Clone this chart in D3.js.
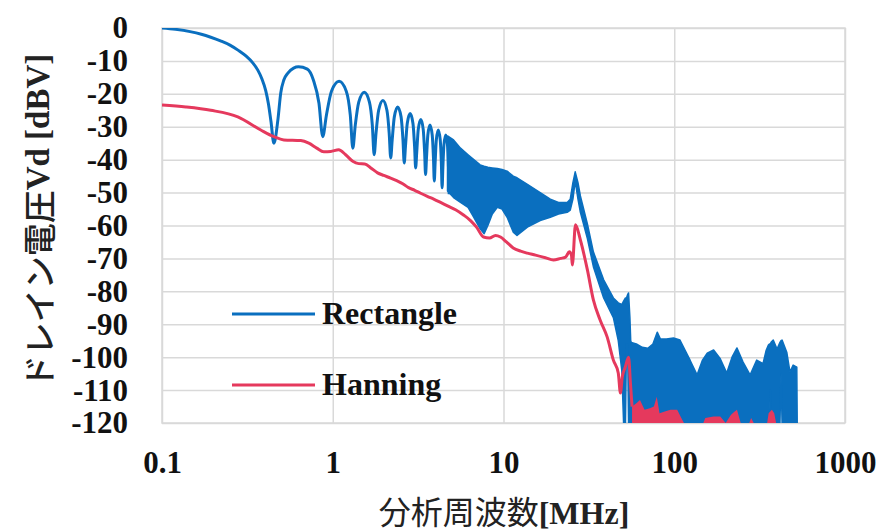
<!DOCTYPE html>
<html>
<head>
<meta charset="utf-8">
<script src="https://cdn.jsdelivr.net/npm/d3@7"></script>
<style>
  body { margin: 0; background: #ffffff; }
  svg { display: block; }
</style>
</head>
<body>
<svg id="chart" width="892" height="532"></svg>
<script>
// ---- axis ticks ----
const xTickValues = [0.1, 1, 10, 100, 1000];
const xTickLabels = ["0.1", "1", "10", "100", "1000"];
const yTickValues = [0, -10, -20, -30, -40, -50, -60, -70, -80, -90, -100, -110, -120];

// ---- series ----
const seriesNames = ["Rectangle", "Hanning"];
const seriesColors = ["#0a6fbf", "#e5395d"];

// Rectangle window: main lobe and resolved side lobes [MHz, dBV]
const rectangleLine = [
  [0.1, 0], [0.12, -0.4], [0.146, -1.1], [0.17, -1.9], [0.193, -2.8], [0.22, -3.9],
  [0.25, -5.2], [0.28, -6.8], [0.31, -8.5], [0.34, -10.6], [0.364, -12.8], [0.385, -15.5],
  [0.405, -19], [0.42, -23], [0.435, -28.5], [0.452, -35],
  [0.477, -28], [0.496, -19.7], [0.517, -15.8], [0.546, -13.7], [0.59, -12.2], [0.63, -11.8],
  [0.71, -12.5], [0.77, -15.8], [0.83, -22.8], [0.874, -33],
  [0.918, -26.5], [0.983, -19.2], [1.09, -16.2], [1.2, -19.2], [1.267, -26.5], [1.311, -36.5],
  [1.355, -29.5], [1.42, -22.5], [1.53, -19.5], [1.64, -22.5], [1.705, -29.5], [1.748, -38.5],
  [1.792, -32], [1.857, -25], [1.967, -22], [2.076, -25], [2.141, -32], [2.185, -39.5],
  [2.229, -34], [2.294, -27], [2.4, -24], [2.513, -27], [2.578, -34], [2.622, -41],
  [2.666, -36], [2.731, -29], [2.84, -26], [2.95, -29], [3.015, -36], [3.059, -42.5],
  [3.103, -37.8], [3.168, -30.8], [3.28, -27.8], [3.387, -30.8], [3.452, -37.8], [3.496, -44.5],
  [3.54, -39.5], [3.605, -32.5], [3.71, -29.5], [3.824, -32.5], [3.889, -39.5], [3.933, -46.5],
  [3.977, -41], [4.042, -34], [4.15, -31], [4.261, -34], [4.326, -41], [4.37, -48.5],
  [4.414, -42.5], [4.479, -35.5], [4.59, -32.5], [4.698, -35.5], [4.763, -42.5], [4.807, -50.5]
];

// Rectangle window: densely packed side lobes, [MHz, upper dBV, lower dBV]
const rectangleBand = [
  [4.7, -32.8, -49.5], [5.1, -34, -51.5], [5.6, -36.5, -53], [6.2, -38.5, -54.5],
  [6.7, -40, -57.5], [7.3, -41.6, -61], [7.7, -42, -62.5], [8.1, -42.3, -60],
  [8.6, -42.5, -56.5], [9.2, -42.7, -54.5], [9.8, -43, -55], [10.5, -43.5, -57.5],
  [11.4, -45, -62], [12.0, -45.5, -63], [13.8, -47.5, -60.5], [16.4, -50, -58.5],
  [18.8, -52, -57.5], [21.0, -53, -56.5], [23.6, -53, -56], [24.6, -52, -55.3],
  [25.5, -47, -52], [26.3, -43.7, -46.5], [27.3, -47, -52], [28.2, -51, -56],
  [31.0, -59.5, -64], [33.6, -68, -72.5], [38.6, -76.5, -82], [44.0, -82, -88],
  [47.0, -83.5, -95], [49.3, -84, -104], [50.5, -83, -120], [51.8, -82, -120],
  [52.5, -82, -96], [53.3, -81, -96], [54.0, -80.5, -120], [55.0, -88, -120],
  [55.6, -95, -120], [56, -95.5, -120], [60, -96, -120], [65, -97, -120],
  [70, -97.3, -120], [75, -96, -120], [79.5, -92.4, -120], [83, -94.5, -120],
  [90, -94.5, -120], [99, -94.2, -120], [108, -94.8, -120], [116, -98, -120],
  [124, -101, -120], [136, -105.4, -120], [146, -101, -120], [156, -98.8, -120],
  [170, -97.8, -120], [186, -100.5, -120], [203, -104.8, -120], [218, -100, -120],
  [233, -97.2, -120], [253, -101.5, -120], [278, -105.4, -120], [304, -100.9, -120],
  [331, -102, -120], [345, -98, -120], [356, -96.3, -120], [361, -96, -120],
  [365, -96, -110], [369, -95.5, -120], [380, -94.8, -120], [400, -97.5, -120],
  [416, -95.5, -120], [422, -95, -105], [428, -94.8, -120], [456, -98.5, -120],
  [476, -104.5, -120], [497, -102.4, -120], [522, -103, -120], [525, -120, -120]
];

// Hanning window [MHz, dBV]
const hanningLine = [
  [0.1, -23.4], [0.138, -24], [0.193, -25], [0.278, -27], [0.379, -31], [0.452, -33],
  [0.517, -34], [0.65, -34.2], [0.724, -35], [0.806, -36.5], [0.886, -37.6], [0.973, -37.5],
  [1.084, -37], [1.19, -38.5], [1.31, -40.5], [1.42, -41.2], [1.54, -41.3], [1.67, -42.5],
  [1.83, -44], [1.99, -44.8], [2.18, -45.6], [2.37, -46.4], [2.57, -47.3], [2.78, -48.5],
  [3.02, -49.3], [3.27, -50.2], [3.6, -51.2], [3.9, -52], [4.28, -53], [4.77, -54.2],
  [5.24, -55.2], [5.83, -56.8], [6.41, -58.5], [6.95, -60.5], [7.64, -63.5], [8.28, -63.8],
  [8.98, -63], [9.6, -63.5], [10.4, -65], [11.4, -66.8], [12.6, -67.8], [13.8, -68.4],
  [15.4, -69], [17.6, -69.8], [19.6, -70.5], [21.6, -70], [23.1, -69.6], [24.3, -68],
  [25, -69], [25.3, -72], [26.4, -59.8], [28.2, -64.4], [31, -73.5], [33.6, -82.6],
  [36.8, -88.7], [40.5, -93.9], [44, -100.9], [47, -104.8], [48.4, -110.9], [49.6, -106],
  [51.7, -103], [54, -100], [55.4, -108], [56.6, -115]
];

// Hanning window: noise floor [MHz, upper dBV, lower dBV]
const hanningBand = [
  [56.6, -115, -120], [60, -114, -120], [63, -113, -120], [67, -116, -120],
  [72, -115.5, -120], [76, -115, -120], [79, -112, -120], [82, -117, -120],
  [88, -116.5, -120], [95, -116, -120], [104, -116, -120], [110, -118.5, -120],
  [114, -120, -120], [148, -120, -120], [152, -118.5, -120], [170, -118, -120],
  [186, -118, -120], [200, -120, -120], [215, -117.5, -120], [225, -116.6, -120],
  [233, -116, -120], [245, -120, -120], [275, -120, -120], [282, -118.5, -120],
  [292, -120, -120], [350, -120, -120], [357, -117, -120], [373, -116, -120],
  [385, -117, -120], [395, -120, -120], [520, -120, -120]
];

// ---- layout ----
const svg = d3.select("#chart");
const margin = { left: 162, top: 28, right: 47, bottom: 109 };
const W = 892 - margin.left - margin.right;
const H = 532 - margin.top - margin.bottom;
const g = svg.append("g").attr("transform", `translate(${margin.left},${margin.top})`);

const x = d3.scaleLog().domain([0.1, 1000]).range([0, W]);
const y = d3.scaleLinear().domain([-120, 0]).range([H, 0]);

const gridColor = "#d9d9d9";
const serif = "'Liberation Serif', 'Times New Roman', serif";
const cjk = "'Noto Sans CJK JP', 'Noto Sans CJK SC', sans-serif";

// grid
const gy = g.append("g").call(d3.axisLeft(y).tickValues(yTickValues).tickSize(-W).tickFormat(""));
gy.select(".domain").remove();
gy.selectAll("line").attr("stroke", gridColor).attr("stroke-width", 1.5);

const gx = g.append("g").attr("transform", `translate(0,${H})`)
  .call(d3.axisBottom(x).tickValues(xTickValues).tickSize(-H).tickFormat(""));
gx.select(".domain").remove();
gx.selectAll("line").attr("stroke", gridColor).attr("stroke-width", 1.5);

g.append("rect").attr("x", 0).attr("y", 0).attr("width", W).attr("height", H)
  .attr("fill", "none").attr("stroke", gridColor).attr("stroke-width", 1.5);

// tick labels
const ay = g.append("g").call(d3.axisLeft(y).tickValues(yTickValues).tickSize(0).tickPadding(34)
  .tickFormat(d => String(d)));
ay.select(".domain").remove();
ay.selectAll("text").attr("font-family", serif).attr("font-weight", "bold")
  .attr("font-size", 31).attr("fill", "#111");

const ax = g.append("g").attr("transform", `translate(0,${H})`)
  .call(d3.axisBottom(x).tickValues(xTickValues).tickSize(0).tickPadding(28)
    .tickFormat((d, i) => xTickLabels[i]));
ax.select(".domain").remove();
ax.selectAll("text").attr("font-family", serif).attr("font-weight", "bold")
  .attr("font-size", 31).attr("fill", "#111");

// data marks
g.append("clipPath").attr("id", "plotClip").append("rect")
  .attr("x", 0).attr("y", 0).attr("width", W).attr("height", H);
const plot = g.append("g").attr("clip-path", "url(#plotClip)");

const line = d3.line().x(d => x(d[0])).y(d => y(d[1])).curve(d3.curveMonotoneX);
const band = d3.area().x(d => x(d[0])).y0(d => y(d[2])).y1(d => y(d[1])).curve(d3.curveLinear);

plot.append("path").datum(rectangleLine).attr("d", line)
  .attr("fill", "none").attr("stroke", seriesColors[0]).attr("stroke-width", 3)
  .attr("stroke-linejoin", "round");
plot.append("path").datum(rectangleBand).attr("d", band)
  .attr("fill", seriesColors[0]).attr("stroke", seriesColors[0]).attr("stroke-width", 1.5)
  .attr("stroke-linejoin", "round");

plot.append("path").datum(hanningLine).attr("d", line)
  .attr("fill", "none").attr("stroke", seriesColors[1]).attr("stroke-width", 3)
  .attr("stroke-linejoin", "round");
plot.append("path").datum(hanningBand).attr("d", band)
  .attr("fill", seriesColors[1]).attr("stroke", "none");

// legend
const legendRows = [314, 385];
seriesNames.forEach((name, i) => {
  const ly = legendRows[i] - margin.top;
  g.append("line").attr("x1", 232 - margin.left).attr("x2", 315 - margin.left)
    .attr("y1", ly).attr("y2", ly).attr("stroke", seriesColors[i]).attr("stroke-width", 3);
  g.append("text").attr("x", 322 - margin.left).attr("y", ly + 10)
    .attr("font-family", serif).attr("font-weight", "bold").attr("font-size", 32)
    .attr("fill", "#111").text(name);
});

// axis titles
const xt = svg.append("text").attr("x", 504).attr("y", 524).attr("text-anchor", "middle")
  .attr("fill", "#222").attr("font-size", 32);
xt.append("tspan").attr("font-family", cjk).text("分析周波数");
xt.append("tspan").attr("font-family", serif).attr("font-weight", "bold").text("[MHz]");

const yt = svg.append("text").attr("transform", "translate(38,221) rotate(-90)")
  .attr("text-anchor", "middle").attr("dominant-baseline", "central")
  .attr("fill", "#222").attr("font-size", 33);
yt.append("tspan").attr("font-family", cjk).attr("font-weight", 500).text("ドレイン電圧");
yt.append("tspan").attr("font-family", serif).attr("font-weight", "bold").text("Vd [dBV]");
</script>
</body>
</html>
